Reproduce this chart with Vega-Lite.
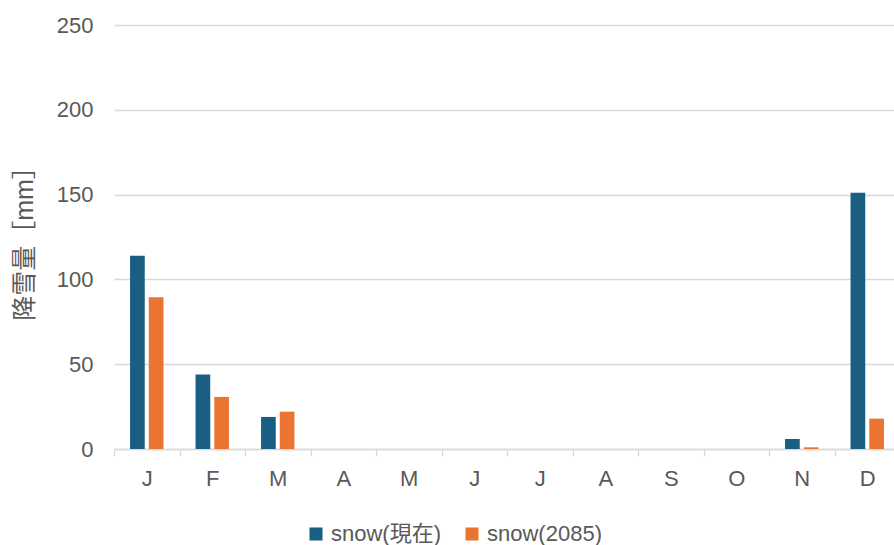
{
  "$schema": "https://vega.github.io/schema/vega-lite/v6.json",
  "autosize": "none",
  "width": 786,
  "height": 424,
  "padding": {"left": 114, "top": 25, "right": 0, "bottom": 96},
  "background": "white",
  "config": {
    "font": "Liberation Sans, Noto Sans CJK JP",
    "view": {"stroke": null}
  },
  "data": {
    "values": [
      {"month": "Jan", "series": "snow(現在)", "value": 114},
      {"month": "Jan", "series": "snow(2085)", "value": 89.5},
      {"month": "Feb", "series": "snow(現在)", "value": 44},
      {"month": "Feb", "series": "snow(2085)", "value": 30.7},
      {"month": "Mar", "series": "snow(現在)", "value": 18.9},
      {"month": "Mar", "series": "snow(2085)", "value": 22},
      {"month": "Apr", "series": "snow(現在)", "value": 0},
      {"month": "Apr", "series": "snow(2085)", "value": 0},
      {"month": "May", "series": "snow(現在)", "value": 0},
      {"month": "May", "series": "snow(2085)", "value": 0},
      {"month": "Jun", "series": "snow(現在)", "value": 0},
      {"month": "Jun", "series": "snow(2085)", "value": 0},
      {"month": "Jul", "series": "snow(現在)", "value": 0},
      {"month": "Jul", "series": "snow(2085)", "value": 0},
      {"month": "Aug", "series": "snow(現在)", "value": 0},
      {"month": "Aug", "series": "snow(2085)", "value": 0},
      {"month": "Sep", "series": "snow(現在)", "value": 0},
      {"month": "Sep", "series": "snow(2085)", "value": 0},
      {"month": "Oct", "series": "snow(現在)", "value": 0},
      {"month": "Oct", "series": "snow(2085)", "value": 0},
      {"month": "Nov", "series": "snow(現在)", "value": 5.9},
      {"month": "Nov", "series": "snow(2085)", "value": 1},
      {"month": "Dec", "series": "snow(現在)", "value": 151.1},
      {"month": "Dec", "series": "snow(2085)", "value": 17.9}
    ]
  },
  "mark": {"type": "bar"},
  "encoding": {
    "x": {
      "field": "month",
      "type": "nominal",
      "sort": ["Jan","Feb","Mar","Apr","May","Jun","Jul","Aug","Sep","Oct","Nov","Dec"],
      "scale": {"paddingInner": 0, "paddingOuter": 0},
      "axis": {
        "title": null,
        "labelAngle": 0,
        "labelExpr": "isString(datum.value) ? substring(datum.value,0,1) : ''",
        "labelFontSize": 22,
        "labelColor": "#595959",
        "labelPadding": 12,
        "tickBand": "extent",
        "tickSize": 7,
        "tickColor": "#D9D9D9",
        "tickWidth": 1.3,
        "domainColor": "#D9D9D9",
        "domainWidth": 1.3,
        "grid": false
      }
    },
    "xOffset": {
      "field": "series",
      "type": "nominal",
      "sort": ["snow(現在)", "snow(2085)"],
      "scale": {"paddingInner": 0.214, "paddingOuter": 0.857}
    },
    "y": {
      "field": "value",
      "type": "quantitative",
      "scale": {"domain": [0, 250]},
      "axis": {
        "title": "降雪量［mm］",
        "titleFontSize": 25,
        "titleFontWeight": "normal",
        "titleColor": "#595959",
        "titlePadding": 19,
        "values": [0, 50, 100, 150, 200, 250],
        "labelFontSize": 22,
        "labelColor": "#595959",
        "labelPadding": 21,
        "ticks": false,
        "domain": false,
        "gridColor": "#D9D9D9",
        "gridWidth": 1.3
      }
    },
    "color": {
      "field": "series",
      "type": "nominal",
      "sort": ["snow(現在)", "snow(2085)"],
      "scale": {"domain": ["snow(現在)", "snow(2085)"], "range": ["#1A5E83", "#EC7432"]},
      "legend": {
        "title": null,
        "orient": "none",
        "direction": "horizontal",
        "legendX": 191,
        "legendY": 498,
        "symbolType": "square",
        "symbolSize": 170,
        "symbolStrokeWidth": 0,
        "labelFontSize": 22,
        "labelColor": "#595959",
        "labelOffset": 4,
        "columnPadding": 19
      }
    }
  }
}
